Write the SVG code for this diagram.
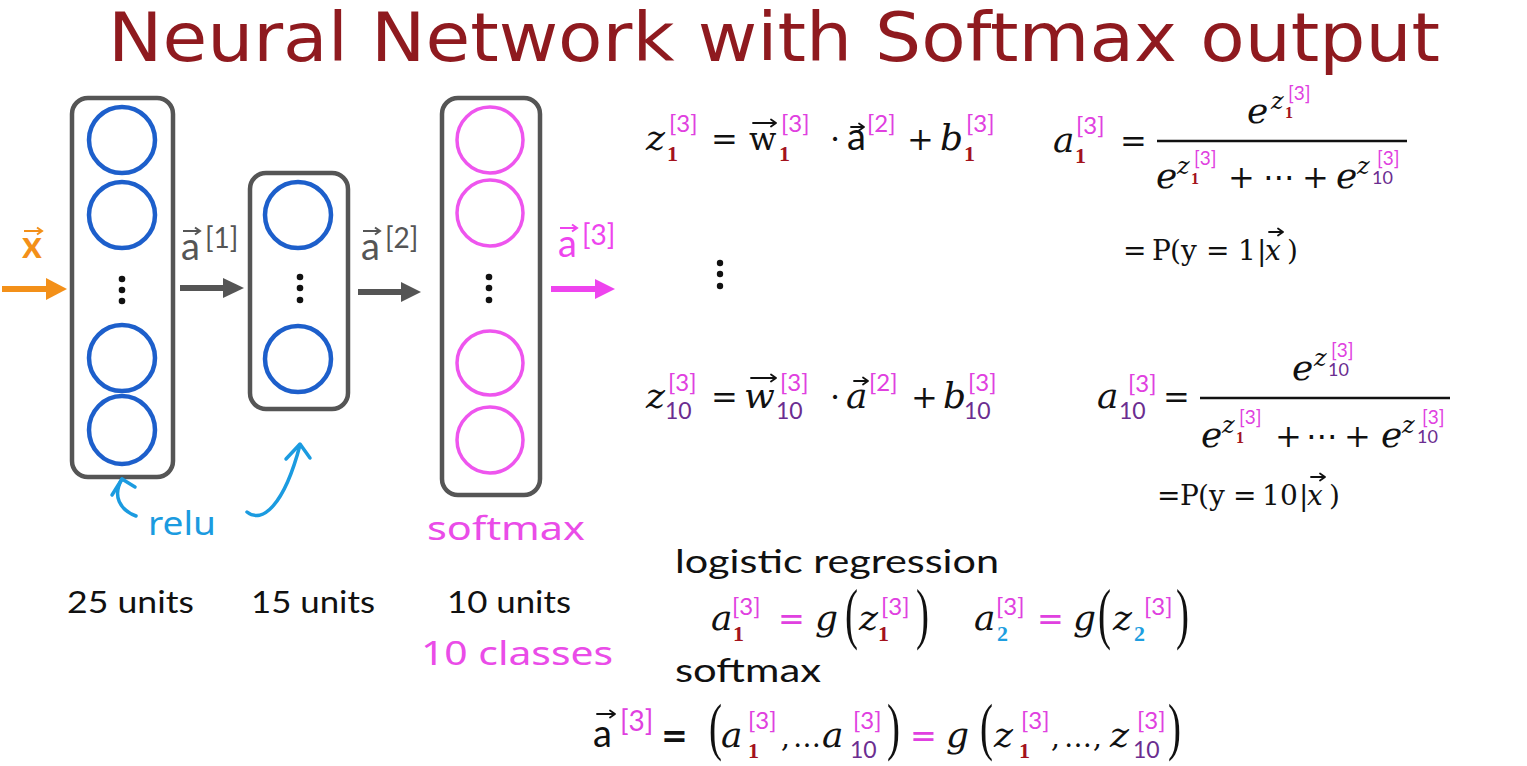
<svg xmlns="http://www.w3.org/2000/svg" width="1527" height="766" viewBox="0 0 1527 766">
<style>
.title{font-family:"DejaVu Sans",Verdana,sans-serif;font-size:67px;fill:#8f1a1f}
.box{fill:none;stroke:#555;stroke-width:4.5}
.nb{fill:none;stroke:#1d5fcb;stroke-width:4.5}
.nm{fill:none;stroke:#ee55ee;stroke-width:3.5}
.dot{fill:#111}
.units{font-family:Lato,"Liberation Sans",sans-serif;font-size:30px;fill:#111}
.hand{font-family:"Noto Sans",Lato,sans-serif;font-size:33px}
.lbl{font-family:Lato,"Liberation Sans",sans-serif;font-size:38px}
.lsup{font-family:Lato,"Liberation Sans",sans-serif;font-size:28px}
.mi{font-family:"DejaVu Serif",serif;font-style:italic;font-size:36px;fill:#111}
.mis{font-family:"DejaVu Serif",serif;font-style:italic;font-size:24px;fill:#111}
.mu{font-family:"DejaVu Serif",serif;font-size:32px;fill:#111}
.pr{font-family:"DejaVu Serif",serif;font-size:28px;fill:#111}
.sa{font-family:Lato,"Liberation Sans",sans-serif;font-size:38px;fill:#111}
.sup{font-family:Lato,"Liberation Sans",sans-serif;font-size:24px;fill:#e040e0}
.sups{font-family:Lato,"Liberation Sans",sans-serif;font-size:19px;fill:#e040e0}
.r1{font-family:"Liberation Serif",serif;font-weight:bold;font-size:22px;fill:#a3121c}
.r1s{font-family:"Liberation Serif",serif;font-weight:bold;font-size:16px;fill:#a3121c}
.p10{font-family:Lato,"Liberation Sans",sans-serif;font-size:23px;fill:#6b2d90}
.p10s{font-family:Lato,"Liberation Sans",sans-serif;font-size:18px;fill:#6b2d90}
.c2{font-family:"Liberation Serif",serif;font-weight:bold;font-size:22px;fill:#1e9ee0}
.op{font-family:"DejaVu Sans",sans-serif;font-size:32px}
.par{font-family:"Liberation Serif",serif;font-size:52px;fill:#111}
.txt{font-family:Lato,"Liberation Sans",sans-serif;font-size:33px;fill:#111}
.acc{fill:none;stroke:#111;stroke-width:1.8;stroke-linecap:round;stroke-linejoin:round}
.line{stroke:#111;stroke-width:2.5}
.hnd{fill:none;stroke:#1b9be0;stroke-width:3.5;stroke-linecap:round;stroke-linejoin:round}
</style>

<text class="title" x="108" y="61" textLength="1332" lengthAdjust="spacingAndGlyphs">Neural Network with Softmax output</text>

<g id="layer1">
  <rect class="box" x="72" y="98" width="101" height="379" rx="16"/>
  <ellipse class="nb" cx="122" cy="140" rx="33" ry="33"/>
  <ellipse class="nb" cx="122" cy="215" rx="33" ry="33"/>
  <circle class="dot" cx="122" cy="279" r="3.3"/>
  <circle class="dot" cx="122" cy="290" r="3.3"/>
  <circle class="dot" cx="122" cy="301" r="3.3"/>
  <ellipse class="nb" cx="122" cy="358" rx="33" ry="33"/>
  <ellipse class="nb" cx="122" cy="430" rx="33" ry="34"/>
</g>
<g id="layer2">
  <rect class="box" x="250" y="173" width="98" height="236" rx="16"/>
  <ellipse class="nb" cx="298" cy="215" rx="33" ry="33"/>
  <circle class="dot" cx="300" cy="277" r="3.3"/>
  <circle class="dot" cx="300" cy="288" r="3.3"/>
  <circle class="dot" cx="300" cy="300" r="3.3"/>
  <ellipse class="nb" cx="298" cy="359" rx="33" ry="33"/>
</g>
<g id="layer3">
  <rect class="box" x="442" y="98" width="98" height="397" rx="16"/>
  <ellipse class="nm" cx="490" cy="140" rx="33" ry="33"/>
  <ellipse class="nm" cx="490" cy="213" rx="33" ry="33"/>
  <circle class="dot" cx="489" cy="277" r="3.3"/>
  <circle class="dot" cx="489" cy="288" r="3.3"/>
  <circle class="dot" cx="489" cy="300" r="3.3"/>
  <ellipse class="nm" cx="490" cy="363" rx="33" ry="32"/>
  <ellipse class="nm" cx="490" cy="440" rx="33" ry="33"/>
</g>

<g id="connectors">
  <line x1="2" y1="289" x2="50" y2="289" stroke="#f39019" stroke-width="6"/>
  <polygon points="46,278 67,289 46,300" fill="#f39019"/>
  <line x1="180" y1="288" x2="226" y2="288" stroke="#555" stroke-width="6"/>
  <polygon points="223,278 244,288 223,298" fill="#555"/>
  <line x1="358" y1="292" x2="404" y2="292" stroke="#555" stroke-width="6"/>
  <polygon points="401,282 421,292 401,302" fill="#555"/>
  <line x1="551" y1="289" x2="598" y2="289" stroke="#ee44ee" stroke-width="6"/>
  <polygon points="595,279 615,289 595,299" fill="#ee44ee"/>
  <path class="hnd" d="M136 516 C120 510 112 496 122 479"/>
  <path class="hnd" d="M112 495 L122 479 L135 487"/>
  <path class="hnd" d="M247 512 C262 524 284 506 300 445"/>
  <path class="hnd" d="M286 459 L300 444 L310 458"/>
</g>

<g id="labels">
  <text class="lbl" x="22" y="258" fill="#f39019" font-weight="bold">x</text>
  <path d="M24 231 H42 M37 227.5 L42 231 L37 234.5" fill="none" stroke="#f39019" stroke-width="2"/>
  <text class="lbl" x="181" y="260" fill="#555">a</text>
  <path d="M183 231 H200 M195 227.5 L200 231 L195 234.5" fill="none" stroke="#555" stroke-width="2"/>
  <text class="lsup" x="205" y="248" fill="#555">[1]</text>
  <text class="lbl" x="361" y="260" fill="#555">a</text>
  <path d="M363 231 H380 M375 227.5 L380 231 L375 234.5" fill="none" stroke="#555" stroke-width="2"/>
  <text class="lsup" x="385" y="248" fill="#555">[2]</text>
  <text class="lbl" x="558" y="257" fill="#ee44ee">a</text>
  <path d="M560 228 H577 M572 224.5 L577 228 L572 231.5" fill="none" stroke="#ee44ee" stroke-width="2"/>
  <text class="lsup" x="582" y="245" fill="#ee44ee">[3]</text>
  <text class="hand" x="148" y="535" fill="#1b9be0" textLength="68" lengthAdjust="spacingAndGlyphs">relu</text>
  <text class="hand" x="427" y="540" fill="#ea4ce8" textLength="158" lengthAdjust="spacingAndGlyphs">softmax</text>
  <text class="units" x="67" y="613" textLength="127" lengthAdjust="spacingAndGlyphs">25 units</text>
  <text class="units" x="251" y="613" textLength="124" lengthAdjust="spacingAndGlyphs">15 units</text>
  <text class="units" x="447" y="613" textLength="124" lengthAdjust="spacingAndGlyphs">10 units</text>
  <text class="hand" x="421" y="665" fill="#ea4ce8" textLength="192" lengthAdjust="spacingAndGlyphs">10 classes</text>
</g>

<g id="eq-z1">
  <text class="mi" x="646" y="150">z</text>
  <text class="sup" x="669" y="132">[3]</text>
  <text class="r1" x="667" y="161">1</text>
  <text class="mu" x="711" y="150">=</text>
  <text class="mu" x="749" y="150">w</text>
  <path class="acc" d="M753 123 H776 M771 119.5 L776 123 L771 126.5"/>
  <text class="r1" x="779" y="161">1</text>
  <text class="sup" x="781" y="132">[3]</text>
  <text class="mu" x="830" y="150">·</text>
  <text class="sa" x="847" y="150">a</text>
  <path class="acc" d="M851 127 H864 M859 123.5 L864 127 L859 130.5"/>
  <text class="sup" x="867" y="132">[2]</text>
  <text class="mu" x="907" y="150" font-size="30">+</text>
  <text class="mi" x="940" y="150">b</text>
  <text class="r1" x="964" y="161">1</text>
  <text class="sup" x="966" y="132">[3]</text>
  <circle class="dot" cx="720" cy="263" r="3.2"/>
  <circle class="dot" cx="720" cy="274" r="3.2"/>
  <circle class="dot" cx="720" cy="286" r="3.2"/>
</g>

<g id="eq-z10">
  <text class="mi" x="646" y="408">z</text>
  <text class="sup" x="668" y="391">[3]</text>
  <text class="p10" x="665" y="419">10</text>
  <text class="mu" x="711" y="408">=</text>
  <text class="mi" x="744" y="408">w</text>
  <path class="acc" d="M751 378 H776 M771 374.5 L776 378 L771 381.5"/>
  <text class="p10" x="776" y="419">10</text>
  <text class="sup" x="780" y="391">[3]</text>
  <text class="mu" x="830" y="408">·</text>
  <text class="mi" x="846" y="408">a</text>
  <path class="acc" d="M854 381 H868 M863 377.5 L868 381 L863 384.5"/>
  <text class="sup" x="869" y="391">[2]</text>
  <text class="mu" x="911" y="408" font-size="30">+</text>
  <text class="mi" x="943" y="408">b</text>
  <text class="p10" x="964" y="419">10</text>
  <text class="sup" x="968" y="391">[3]</text>
</g>

<g id="eq-a1">
  <text class="mi" x="1053" y="152">a</text>
  <text class="sup" x="1076" y="134">[3]</text>
  <text class="r1" x="1075" y="163">1</text>
  <text class="mu" x="1120" y="152">=</text>
  <line class="line" x1="1157" y1="141" x2="1407" y2="141"/>
  <text class="mi" x="1247" y="123">e</text>
  <text class="mis" x="1271" y="109">z</text>
  <text class="r1s" x="1285" y="118">1</text>
  <text class="sups" x="1288" y="100">[3]</text>
  <text class="mi" x="1156" y="188">e</text>
  <text class="mis" x="1177" y="174">z</text>
  <text class="r1s" x="1191" y="184">1</text>
  <text class="sups" x="1194" y="165">[3]</text>
  <text class="mu" x="1228" y="188" font-size="30">+</text>
  <text class="op" x="1263" y="188" fill="#111">⋯</text>
  <text class="mu" x="1302" y="188" font-size="30">+</text>
  <text class="mi" x="1336" y="188">e</text>
  <text class="mis" x="1357" y="174">z</text>
  <text class="p10s" x="1372" y="184">10</text>
  <text class="sups" x="1377" y="165">[3]</text>
  <text class="pr" x="1123 1152 1170 1181 1206 1238 1257" y="260">=P(y=1|</text>
  <text class="pr" x="1265" y="260" font-style="italic">x</text>
  <path class="acc" d="M1269 232 H1283 M1278 228.5 L1283 232 L1278 235.5" stroke-width="1.6"/>
  <text class="pr" x="1287" y="260">)</text>
</g>

<g id="eq-a10">
  <text class="mi" x="1097" y="408">a</text>
  <text class="sup" x="1128" y="392">[3]</text>
  <text class="p10" x="1119" y="419">10</text>
  <text class="mu" x="1163" y="408">=</text>
  <line class="line" x1="1200" y1="398" x2="1450" y2="398"/>
  <text class="mi" x="1292" y="380">e</text>
  <text class="mis" x="1314" y="366">z</text>
  <text class="p10s" x="1328" y="376">10</text>
  <text class="sups" x="1331" y="357">[3]</text>
  <text class="mi" x="1201" y="447">e</text>
  <text class="mis" x="1222" y="433">z</text>
  <text class="r1s" x="1236" y="443">1</text>
  <text class="sups" x="1239" y="424">[3]</text>
  <text class="mu" x="1275" y="447" font-size="30">+</text>
  <text class="op" x="1306" y="447" fill="#111">⋯</text>
  <text class="mu" x="1344" y="447" font-size="30">+</text>
  <text class="mi" x="1381" y="447">e</text>
  <text class="mis" x="1402" y="433">z</text>
  <text class="p10s" x="1417" y="443">10</text>
  <text class="sups" x="1422" y="424">[3]</text>
  <text class="pr" x="1157 1180 1198 1209 1233 1262 1280 1299" y="505">=P(y=10|</text>
  <text class="pr" x="1307" y="505" font-style="italic">x</text>
  <path class="acc" d="M1311 477 H1325 M1320 473.5 L1325 477 L1320 480.5" stroke-width="1.6"/>
  <text class="pr" x="1329" y="505">)</text>
</g>

<g id="logistic">
  <text class="txt" x="675" y="573" textLength="324" lengthAdjust="spacingAndGlyphs">logistic regression</text>
  <text class="mi" x="711" y="630">a</text>
  <text class="sup" x="732" y="615">[3]</text>
  <text class="r1" x="733" y="641">1</text>
  <text class="op" x="778" y="630" fill="#e040e0">=</text>
  <text class="mi" x="815" y="630">g</text>
  <text class="par" transform="translate(845 636) scale(0.75 1.3)">(</text>
  <text class="mi" x="859" y="630">z</text>
  <text class="r1" x="878" y="641">1</text>
  <text class="sup" x="881" y="615">[3]</text>
  <text class="par" transform="translate(916 636) scale(0.75 1.3)">)</text>
  <text class="mi" x="974" y="630">a</text>
  <text class="sup" x="996" y="615">[3]</text>
  <text class="c2" x="997" y="641">2</text>
  <text class="op" x="1037" y="630" fill="#e040e0">=</text>
  <text class="mi" x="1073" y="630">g</text>
  <text class="par" transform="translate(1098 636) scale(0.75 1.3)">(</text>
  <text class="mi" x="1113" y="630">z</text>
  <text class="c2" x="1134" y="641">2</text>
  <text class="sup" x="1144" y="615">[3]</text>
  <text class="par" transform="translate(1176 636) scale(0.75 1.3)">)</text>
</g>

<g id="softmax-eq">
  <text class="txt" x="675" y="682" textLength="146" lengthAdjust="spacingAndGlyphs">softmax</text>
  <text class="sa" x="593" y="747" font-size="40">a</text>
  <path class="acc" d="M597 714 H615 M610 710.5 L615 714 L610 717.5" stroke-width="2"/>
  <text class="lsup" x="620" y="731" fill="#e040e0">[3]</text>
  <text class="op" x="661" y="747" fill="#111" font-weight="bold">=</text>
  <text class="par" transform="translate(709 748) scale(0.75 1.22)">(</text>
  <text class="mi" x="721" y="747">a</text>
  <text class="sup" x="748" y="729">[3]</text>
  <text class="r1" x="748" y="758">1</text>
  <text class="pr" x="781 793" y="747">,…</text>
  <text class="mi" x="822" y="747">a</text>
  <text class="p10" x="850" y="758">10</text>
  <text class="sup" x="853" y="729">[3]</text>
  <text class="par" transform="translate(887 748) scale(0.75 1.22)">)</text>
  <text class="op" x="910" y="747" fill="#e040e0">=</text>
  <text class="mi" x="946" y="747">g</text>
  <text class="par" transform="translate(980 748) scale(0.75 1.22)">(</text>
  <text class="mi" x="994" y="747">z</text>
  <text class="r1" x="1019" y="758">1</text>
  <text class="sup" x="1021" y="729">[3]</text>
  <text class="pr" x="1051 1064 1093" y="747">,…,</text>
  <text class="mi" x="1110" y="747">z</text>
  <text class="p10" x="1133" y="758">10</text>
  <text class="sup" x="1137" y="729">[3]</text>
  <text class="par" transform="translate(1168 748) scale(0.75 1.22)">)</text>
</g>
</svg>
